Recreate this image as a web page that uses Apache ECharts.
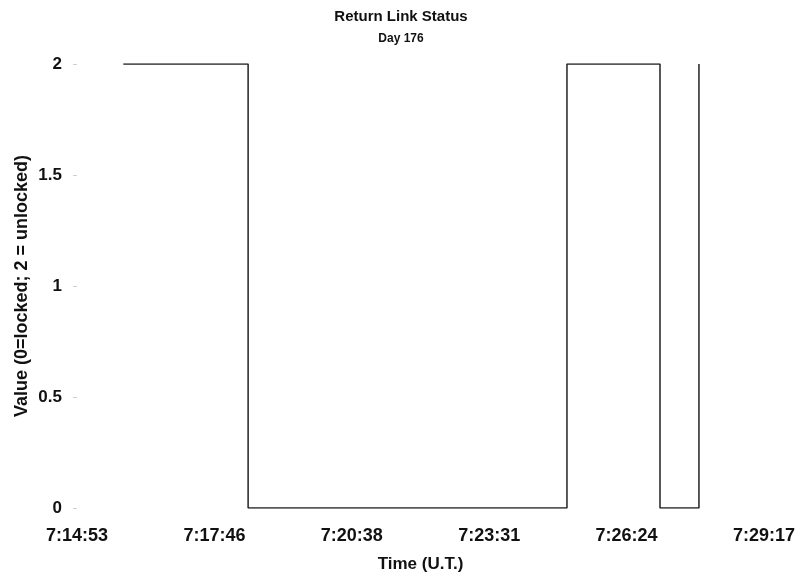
<!DOCTYPE html>
<html>
<head>
<meta charset="utf-8">
<script src="https://cdn.jsdelivr.net/npm/echarts@6/dist/echarts.min.js"></script>
<style>html,body{margin:0;padding:0;background:#fff;}#c{width:802px;height:578px;}</style>
</head>
<body>
<div id="c"></div>
<script>
// Data (times in U.T., Day 176)
const stepTimes  = ["7:15:51", "7:18:28", "7:25:09", "7:27:06", "7:27:55"];
const stepValues = [2, 0, 2, 0, 2];
// X axis ticks expressed as fraction of day
const xMinDay = 0.302, xMaxDay = 0.312, xStepDay = 0.002;
const yTicks = [0, 0.5, 1, 1.5, 2];

function toDay(t) {
  const p = t.split(":").map(Number);
  return (p[0] * 3600 + p[1] * 60 + p[2]) / 86400;
}
function fmtDay(d) {
  let s = Math.round(d * 86400);
  const h = Math.floor(s / 3600); s -= h * 3600;
  const m = Math.floor(s / 60); s -= m * 60;
  return h + ":" + String(m).padStart(2, "0") + ":" + String(s).padStart(2, "0");
}

const seriesData = stepTimes.map((t, i) => [toDay(t), stepValues[i]]);
const FONT = "Liberation Sans";

const chart = echarts.init(document.getElementById("c"), null, {renderer: "canvas"});
chart.setOption({
  animation: false,
  backgroundColor: "#fff",
  title: [
    {text: "Return Link Status", left: "center", top: 4,
     textStyle: {fontFamily: FONT, fontWeight: "bold", fontSize: 15, color: "#111"}},
    {text: "Day 176", left: "center", top: 28,
     textStyle: {fontFamily: FONT, fontWeight: "bold", fontSize: 12, color: "#111"}}
  ],
  grid: {left: 77, right: 38, top: 64, bottom: 70, containLabel: false},
  xAxis: {
    type: "value",
    min: xMinDay, max: xMaxDay, interval: xStepDay,
    name: "Time (U.T.)", nameLocation: "middle", nameGap: 48,
    nameTextStyle: {fontFamily: FONT, fontWeight: "bold", fontSize: 17, color: "#111"},
    axisLine: {show: false},
    axisTick: {show: false},
    splitLine: {show: false},
    axisLabel: {
      margin: 19, fontFamily: FONT, fontWeight: "bold", fontSize: 18, color: "#111",
      formatter: v => fmtDay(v)
    }
  },
  yAxis: {
    type: "value",
    min: yTicks[0], max: yTicks[yTicks.length - 1], interval: yTicks[1] - yTicks[0],
    name: "Value (0=locked; 2 = unlocked)", nameLocation: "middle", nameGap: 46, nameRotate: 90,
    nameMoveOverlap: false,
    nameTextStyle: {fontFamily: FONT, fontWeight: "bold", fontSize: 18, color: "#111"},
    axisLine: {show: false},
    axisTick: {show: true, length: 4, inside: false, lineStyle: {color: "#d0d0d0", width: 1}},
    splitLine: {show: false},
    axisLabel: {margin: 15, fontFamily: FONT, fontWeight: "bold", fontSize: 17, color: "#111",
      formatter: v => String(v)}
  },
  series: [{
    type: "line",
    step: "end",
    data: seriesData,
    showSymbol: false,
    symbol: "none",
    lineStyle: {color: "#222", width: 1.5}
  }]
});
</script>
</body>
</html>
